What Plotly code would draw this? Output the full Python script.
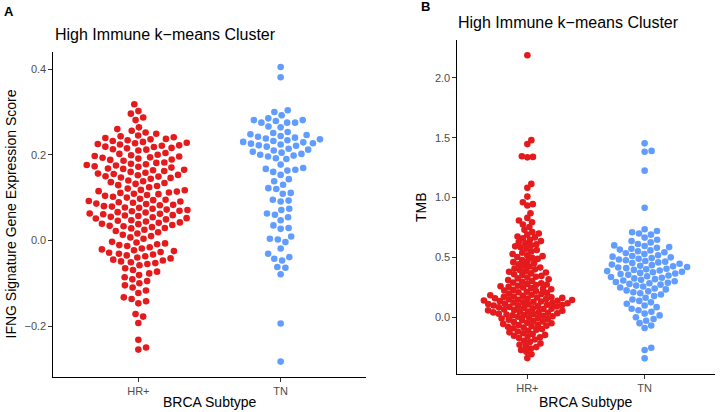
import math
import plotly.graph_objects as go

# ---------------- data ----------------
categories = ["HR+", "TN"]

ifng_hr = [0.318, 0.302, 0.296, 0.287, 0.281,
           0.264, 0.260, 0.256, 0.252, 0.249,
           0.245, 0.243, 0.241, 0.239, 0.237, 0.236, 0.234, 0.232, 0.230,
           0.228, 0.227, 0.225, 0.224, 0.222, 0.221, 0.219, 0.218, 0.216, 0.215, 0.213, 0.212, 0.210,
           0.204, 0.202, 0.200, 0.199, 0.197, 0.196, 0.194, 0.193, 0.191, 0.189, 0.188, 0.186,
           0.182, 0.181, 0.179, 0.178, 0.176, 0.175, 0.173, 0.172, 0.170, 0.168, 0.167, 0.165, 0.164, 0.162, 0.160,
           0.158, 0.156, 0.155, 0.153, 0.152, 0.150, 0.149, 0.147, 0.146, 0.144,
           0.140, 0.138, 0.136, 0.134, 0.132, 0.129, 0.127, 0.124, 0.121,
           0.118, 0.117, 0.115, 0.114, 0.112, 0.111, 0.109, 0.108, 0.106, 0.104, 0.102, 0.100,
           0.097, 0.095, 0.094, 0.092, 0.091, 0.089, 0.088, 0.086, 0.085, 0.083, 0.082, 0.080, 0.079, 0.077, 0.076, 0.074,
           0.072, 0.071, 0.069, 0.068, 0.066, 0.065, 0.063, 0.062, 0.061, 0.059, 0.058, 0.057, 0.055, 0.054, 0.052, 0.051,
           0.049, 0.047, 0.046, 0.044, 0.042, 0.041, 0.039, 0.038, 0.036, 0.034, 0.033, 0.031, 0.029, 0.028,
           0.025, 0.022, 0.019, 0.016, 0.013, 0.010, 0.007, 0.004,
           -0.003, -0.005, -0.007, -0.009, -0.011, -0.013, -0.016, -0.019,
           -0.021, -0.023, -0.025, -0.027, -0.029, -0.031, -0.033, -0.035,
           -0.037, -0.040, -0.042, -0.045, -0.047, -0.049, -0.051, -0.053, -0.055, -0.058,
           -0.065, -0.069, -0.073, -0.077, -0.081,
           -0.086, -0.091, -0.095, -0.100, -0.105,
           -0.110, -0.117, -0.123,
           -0.133, -0.137, -0.142, -0.147,
           -0.172, -0.178, -0.193,
           -0.232, -0.250, -0.255]

ifng_tn = [0.405, 0.381,
           0.304, 0.300,
           0.292, 0.285, 0.281, 0.281, 0.279, 0.275, 0.275, 0.275,
           0.266, 0.264,
           0.253, 0.251, 0.248, 0.246, 0.244, 0.242, 0.240, 0.238, 0.236, 0.234, 0.232, 0.230, 0.229, 0.227,
           0.226, 0.224, 0.222, 0.221, 0.219,
           0.214, 0.212, 0.210, 0.207, 0.205, 0.202, 0.200, 0.198, 0.196, 0.192, 0.190,
           0.177, 0.169, 0.167, 0.165, 0.163, 0.160, 0.153, 0.143,
           0.138, 0.130, 0.122, 0.120, 0.111, 0.109, 0.095, 0.093, 0.091,
           0.074, 0.071, 0.063, 0.060, 0.054, 0.047, 0.035, 0.029, 0.027,
           0.009, 0.004, 0.002, -0.004, -0.019,
           -0.031, -0.039, -0.043, -0.047, -0.062, -0.064, -0.079,
           -0.194, -0.283]

tmb_hr = [2.19, 1.48, 1.447, 1.345, 1.340, 1.336, 1.114, 1.081, 1.008,
          0.961, 0.945, 0.933,
          0.869, 0.830, 0.808,
          0.794, 0.775, 0.753, 0.730,
          0.712, 0.700, 0.690, 0.675, 0.667, 0.660,
          0.646, 0.636, 0.628, 0.618, 0.609, 0.600, 0.592,
          0.584, 0.572, 0.561, 0.550, 0.539, 0.528, 0.518, 0.510, 0.503,
          0.496, 0.487, 0.478, 0.469, 0.460, 0.451, 0.442, 0.433, 0.424, 0.415, 0.407, 0.400,
          0.394, 0.387, 0.380, 0.373, 0.366, 0.359, 0.352, 0.345, 0.338, 0.331, 0.324, 0.317,
          0.310, 0.303, 0.296, 0.289, 0.283,
          0.278, 0.273, 0.268, 0.263, 0.258, 0.253, 0.248, 0.243, 0.238, 0.233, 0.228, 0.223, 0.218, 0.213,
          0.208, 0.203, 0.198, 0.193, 0.188, 0.183, 0.178, 0.173,
          0.170, 0.167, 0.164, 0.161, 0.158, 0.155, 0.152, 0.149, 0.146, 0.143, 0.140, 0.137, 0.134, 0.131,
          0.128, 0.125, 0.122, 0.119, 0.116, 0.113, 0.110, 0.107, 0.104, 0.101, 0.098, 0.095, 0.092, 0.089,
          0.086, 0.082, 0.078, 0.075, 0.071, 0.068, 0.064, 0.061, 0.057, 0.054, 0.050, 0.047,
          0.043, 0.040, 0.036, 0.033, 0.029, 0.026, 0.022, 0.019, 0.015, 0.012, 0.008, 0.004,
          -0.001, -0.006, -0.011, -0.016, -0.021, -0.026, -0.031, -0.036, -0.041,
          -0.046, -0.051, -0.056, -0.061, -0.066, -0.071, -0.076, -0.081, -0.086,
          -0.092, -0.099, -0.106, -0.113, -0.120, -0.127, -0.134, -0.141, -0.148, -0.155, -0.162, -0.168,
          -0.175, -0.186, -0.197, -0.208, -0.219, -0.230, -0.241, -0.250,
          -0.262, -0.275, -0.290, -0.310, -0.342]

tmb_tn = [1.453, 1.390, 1.383, 1.225, 0.914,
          0.735, 0.720, 0.710, 0.700, 0.690,
          0.665, 0.647, 0.636, 0.625, 0.612, 0.600,
          0.595, 0.586, 0.580, 0.572, 0.565, 0.558, 0.551, 0.543, 0.535, 0.528,
          0.518, 0.512, 0.506, 0.500, 0.494, 0.488, 0.482, 0.476, 0.470, 0.464, 0.458, 0.452, 0.446, 0.440,
          0.435, 0.430, 0.425, 0.420, 0.415, 0.410, 0.405, 0.400, 0.395, 0.390, 0.385, 0.380, 0.375, 0.370,
          0.365, 0.360,
          0.354, 0.348, 0.342, 0.336, 0.330, 0.324, 0.318, 0.312, 0.306, 0.300, 0.294, 0.288, 0.283, 0.278,
          0.272, 0.264, 0.256, 0.248, 0.240, 0.232, 0.224, 0.216, 0.208, 0.200,
          0.190, 0.176, 0.162, 0.148, 0.136, 0.124,
          0.112, 0.098, 0.084, 0.070, 0.058, 0.045,
          0.030, 0.015, 0.000, -0.015, -0.030,
          -0.050, -0.070, -0.090,
          -0.256, -0.275, -0.344]

# ---------------- layout geometry (pixels) ----------------
W, H = 720, 412
A_x0, A_x1, A_y0, A_y1 = 53, 366, 52, 377   # left, right, top, bottom
B_x0, B_x1, B_y0, B_y1 = 457, 715, 40, 374
A_yrange = [-0.319, 0.44]
B_yrange = [-0.475, 2.317]
XRANGE = [0.4, 2.6]

RED = "#E41A1C"
BLUE = "#619CFF"
FONT = "Liberation Sans, Arial, sans-serif"


def swarm_offsets(vals, px_per_unit, d):
    """Beeswarm: place points in ascending order as close to centre as possible."""
    n = len(vals)
    order = sorted(range(n), key=lambda i: vals[i])
    placed = []
    xs = [0.0] * n
    for i in order:
        y = vals[i] * px_per_unit
        near = [(px, py) for px, py in placed if abs(py - y) < d]
        cands = [0.0]
        for px, py in near:
            dx = math.sqrt(max(d * d - (py - y) ** 2, 0.0))
            cands += [px + dx, px - dx]
        cands.sort(key=lambda c: (abs(c), -c))
        for c in cands:
            if all((c - px) ** 2 + (y - py) ** 2 >= d * d - 1e-6 for px, py in near):
                xs[i] = c
                break
        placed.append((xs[i], y))
    return xs


def panel_x(vals, cat_index, x0, x1, y0, y1, yrange, d):
    ypx = (y1 - y0) / (yrange[1] - yrange[0])
    xpx = (x1 - x0) / (XRANGE[1] - XRANGE[0])
    offs = swarm_offsets(vals, ypx, d)
    return [cat_index + o / xpx for o in offs]


fig = go.Figure()

DA, DB_HR, DB_TN = 8.0, 5.6, 7.0
MS = 6.6

fig.add_trace(go.Scatter(x=panel_x(ifng_hr, 1, A_x0, A_x1, A_y0, A_y1, A_yrange, DA), y=ifng_hr,
                         mode="markers", marker=dict(color=RED, size=MS, line=dict(width=0)),
                         xaxis="x", yaxis="y", showlegend=False))
fig.add_trace(go.Scatter(x=panel_x(ifng_tn, 2, A_x0, A_x1, A_y0, A_y1, A_yrange, DA), y=ifng_tn,
                         mode="markers", marker=dict(color=BLUE, size=MS, line=dict(width=0)),
                         xaxis="x", yaxis="y", showlegend=False))
fig.add_trace(go.Scatter(x=panel_x(tmb_hr, 1, B_x0, B_x1, B_y0, B_y1, B_yrange, DB_HR), y=tmb_hr,
                         mode="markers", marker=dict(color=RED, size=MS, line=dict(width=0)),
                         xaxis="x2", yaxis="y2", showlegend=False))
fig.add_trace(go.Scatter(x=panel_x(tmb_tn, 2, B_x0, B_x1, B_y0, B_y1, B_yrange, DB_TN), y=tmb_tn,
                         mode="markers", marker=dict(color=BLUE, size=MS, line=dict(width=0)),
                         xaxis="x2", yaxis="y2", showlegend=False))


def xdom(a, b):
    return [a / W, b / W]


def ydom(top, bottom):
    return [(H - bottom) / H, (H - top) / H]


axis_common = dict(showgrid=False, zeroline=False, showline=True, linecolor="black", linewidth=1.2,
                   ticks="outside", ticklen=3.5, tickwidth=1, tickcolor="#333333",
                   tickfont=dict(family=FONT, size=11, color="#4D4D4D"))

fig.update_layout(
    width=W, height=H, margin=dict(l=0, r=0, t=0, b=0),
    paper_bgcolor="white", plot_bgcolor="white",
    xaxis=dict(domain=xdom(A_x0, A_x1), range=XRANGE, tickvals=[1, 2], ticktext=categories,
               anchor="y", **axis_common),
    yaxis=dict(domain=ydom(A_y0, A_y1), range=A_yrange, tickvals=[-0.2, 0.0, 0.2, 0.4],
               tickformat=".1f", anchor="x", **axis_common),
    xaxis2=dict(domain=xdom(B_x0, B_x1), range=XRANGE, tickvals=[1, 2], ticktext=categories,
                anchor="y2", **axis_common),
    yaxis2=dict(domain=ydom(B_y0, B_y1), range=B_yrange, tickvals=[0.0, 0.5, 1.0, 1.5, 2.0],
                tickformat=".1f", anchor="x2", **axis_common),
)


def ann(text, x, y, size, color="black", bold=False, angle=0, xanchor="center"):
    fig.add_annotation(text=f"<b>{text}</b>" if bold else text, x=x / W, y=(H - y) / H,
                       xref="paper", yref="paper", showarrow=False, textangle=angle,
                       xanchor=xanchor, yanchor="middle",
                       font=dict(family=FONT, size=size, color=color))


ann("A", 2, 12, 13, bold=True, xanchor="left")
ann("B", 419, 7, 13, bold=True, xanchor="left")
ann("High Immune k\u2212means Cluster", 53, 35, 16, xanchor="left")
ann("High Immune k\u2212means Cluster", 456, 23, 16, xanchor="left")
ann("IFNG Signature Gene Expression Score", 11, (A_y0 + A_y1) / 2, 14, angle=-90)
ann("TMB", 421, (B_y0 + B_y1) / 2, 14, angle=-90)
ann("BRCA Subtype", (A_x0 + A_x1) / 2, 402, 14)
ann("BRCA Subtype", (B_x0 + B_x1) / 2, 402, 14)

fig.write_html("out.html")
